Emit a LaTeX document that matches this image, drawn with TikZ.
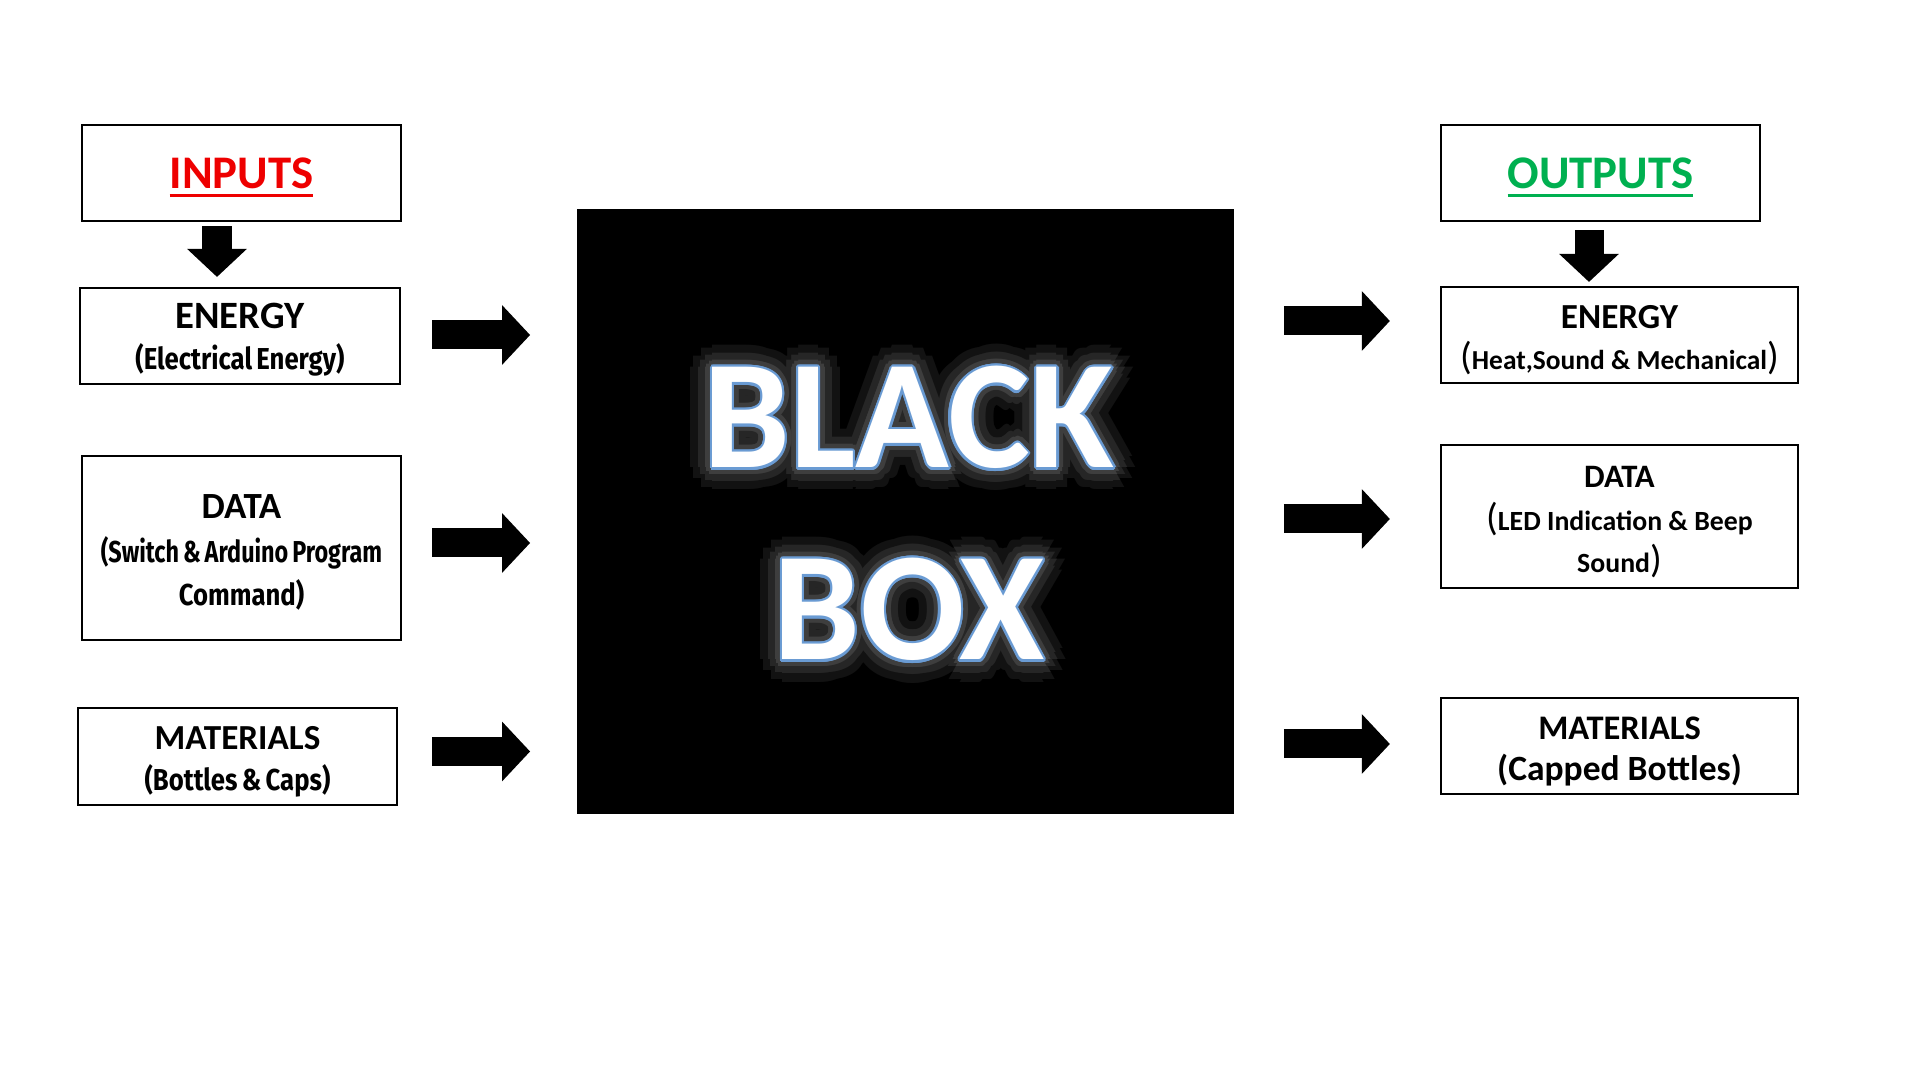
\documentclass[tikz,border=0pt]{standalone}
\usepackage{fontspec}
\usepackage{graphicx}
\setmainfont{Carlito}
\newfontfamily\condfont[FakeStretch=0.85, WordSpace=0.7]{Fira Sans}
\usepackage{contour}
\usetikzlibrary{arrows.meta}

\definecolor{inred}{HTML}{EE0000}
\definecolor{outgreen}{HTML}{00B050}
\definecolor{rimblue}{HTML}{6A9BD3}
\definecolor{glowa}{HTML}{121212}
\definecolor{glowb}{HTML}{262626}
\definecolor{glowc}{HTML}{3E3E3E}

\newcommand{\fsz}[1]{\fontsize{#1}{#1}\selectfont}
\newcommand{\lowered}{\rule{0pt}{0.33cm}}
\newcommand{\titleword}[1]{\setbox0\hbox{#1}\usebox0\llap{\smash{\rule[-0.093cm]{\wd0}{0.03cm}}}}
\newcommand{\glowword}[1]{%
  \contournumber{12}%
  \rlap{\contourlength{0.22cm}\contour{glowa}{\color{glowa}#1}}%
  \rlap{\contourlength{0.14cm}\contour{glowb}{\color{glowb}#1}}%
  \rlap{\contourlength{0.07cm}\contour{glowc}{\color{glowc}#1}}%
  \contournumber{16}\contourlength{0.022cm}\contour{rimblue}{\color{white}#1}}
\newcommand{\bigparen}[1]{{\mdseries\fsz{11}#1}}

\begin{document}
\begin{tikzpicture}[x=0.01cm, y=-0.01cm]
            \tikzset{box/.style = {draw, line width=0.02cm, inner sep=0pt, align=center}}
            \tikzset{titlebox/.style = {box, minimum height=0.96cm, font=\bfseries\fontsize{13.3}{14}\selectfont}}
            \tikzset{leftbox/.style = {box, minimum width=3.19cm, font=\bfseries\fontsize{10}{11.7}\selectfont}}
            \tikzset{rightbox/.style = {box, minimum width=3.57cm, font=\bfseries\fontsize{10}{11.7}\selectfont}}
            \tikzset{bbword/.style = {inner sep=0pt, anchor=base, font=\bfseries\fontsize{44}{48}\selectfont}}
            \tikzset{blockarrow/.style = {line width=0.29cm, -{Triangle[length=0.28cm, width=0.58cm]}}}
            
            % page
            \fill[white] (0,0) rectangle (1920,1080);
            
            % inputs
            \node[titlebox, minimum width=3.19cm, text=inred] (inputs) at (241.5,173) {\titleword{INPUTS}};
            \node[leftbox, minimum width=3.20cm, minimum height=0.96cm] (enIn) at (240,336)
              {{\fsz{11}\lowered ENERGY}\\{\condfont\fsz{8.6}(Electrical Energy)}};
            \node[leftbox, minimum height=1.84cm, font=\bfseries\fontsize{10}{12.4}\selectfont] (dataIn) at (241.5,548)
              {{\fsz{10.5}\lowered DATA}\\{\condfont\fsz{8.6}\scalebox{0.91}[1]{(Switch \& Arduino Program}}\\{\condfont\fsz{8.6}Command)}};
            \node[leftbox, minimum height=0.97cm] (matIn) at (237.5,756.5)
              {\lowered MATERIALS\\{\condfont\fsz{8.6}(Bottles \& Caps)}};
            
            % black box
            \node[fill=black, minimum width=6.57cm, minimum height=6.05cm, inner sep=0pt] (bb) at (905.5,511.5) {};
            \node[bbword] (bbTop) at (909,468) {\glowword{BLACK}};
            \node[bbword] (bbBottom) at (909,660) {\glowword{BOX}};
            
            % outputs
            \node[titlebox, minimum width=3.19cm, text=outgreen] (outputs) at (1600.5,173) {\titleword{OUTPUTS}};
            \node[rightbox, minimum height=0.96cm] (enOut) at (1619.5,335)
              {\lowered ENERGY\\{\fsz{7.8}\bigparen{(}Heat,Sound \& Mechanical\bigparen{)}}};
            \node[rightbox, minimum height=1.43cm, font=\bfseries\fontsize{10}{12.1}\selectfont] (dataOut) at (1619.5,516.5)
              {{\fsz{9.3}\lowered DATA}\\{\fsz{7.9}\bigparen{(}LED Indication \& Beep}\\{\fsz{7.9}Sound\bigparen{)}}};
            \node[rightbox, minimum height=0.96cm] (matOut) at (1619.5,746)
              {{\fsz{9.8}\lowered MATERIALS}\\{\fsz{10.1}(Capped Bottles)}};
            
            % arrows
            \draw[blockarrow] ([shift={(-24.5,4)}]inputs.south) -- ([shift={(-23,-10)}]enIn.north);
            \draw[blockarrow] ([shift={(-11.5,8)}]outputs.south) -- ([shift={(-30.5,-4)}]enOut.north);
            \foreach \src/\dy in {enIn/-1, dataIn/-5, matIn/-5}
              {\draw[blockarrow] ([shift={(-144,\dy)}]\src.east -| bb.west) -- ([shift={(-46,\dy)}]\src.east -| bb.west);}
            \foreach \dst/\dy in {enOut/-14, dataOut/2.5, matOut/-2}
              {\draw[blockarrow] ([shift={(49,\dy)}]\dst.west -| bb.east) -- ([shift={(-50,\dy)}]\dst.west);}
            
\end{tikzpicture}
\end{document}
